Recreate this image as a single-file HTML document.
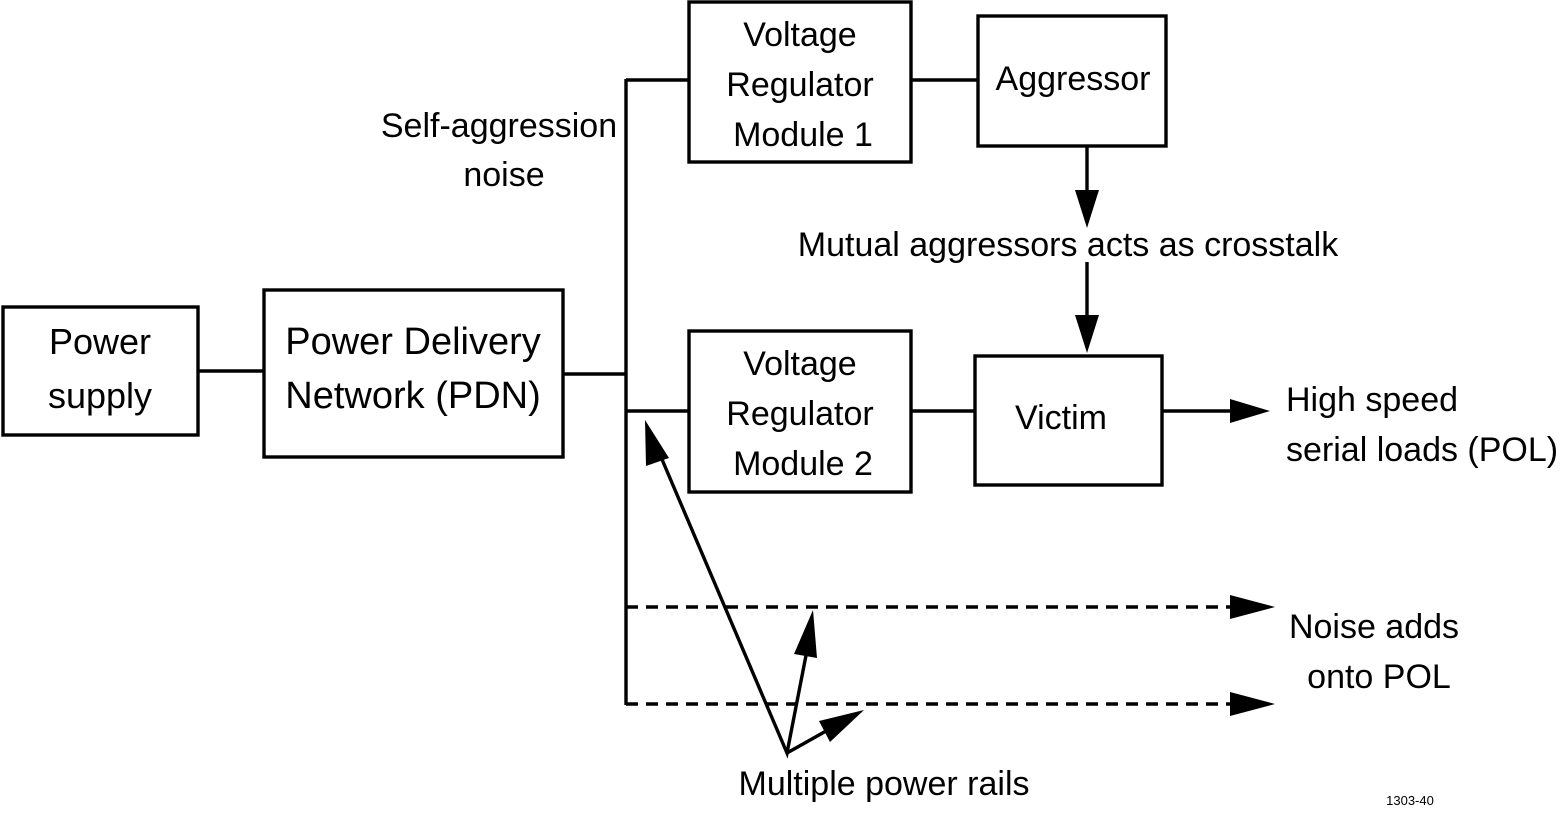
<!DOCTYPE html>
<html><head><meta charset="utf-8"><style>
html,body{margin:0;padding:0;background:#fff;}
svg{display:block;}
text{font-family:"Liberation Sans",sans-serif;font-size:34px;fill:#000;}
</style></head><body>
<svg width="1560" height="814" viewBox="0 0 1560 814" xmlns="http://www.w3.org/2000/svg">
<g fill="none" stroke="#000" stroke-width="3.4">
<rect x="3" y="307" width="195" height="128"/>
<rect x="264" y="290" width="299" height="167"/>
<rect x="689" y="2" width="222" height="160"/>
<rect x="978" y="16" width="188" height="130"/>
<rect x="689" y="331" width="222" height="161"/>
<rect x="975" y="356" width="187" height="129"/>
<line x1="198" y1="371" x2="264" y2="371"/>
<line x1="563" y1="374" x2="626" y2="374"/>
<line x1="626" y1="79" x2="626" y2="705"/>
<line x1="626" y1="80" x2="689" y2="80"/>
<line x1="911" y1="80" x2="978" y2="80"/>
<line x1="626" y1="411" x2="689" y2="411"/>
<line x1="911" y1="411" x2="975" y2="411"/>
<line x1="1162" y1="411" x2="1230" y2="411"/>
<line x1="1087" y1="146" x2="1087" y2="195"/>
<line x1="1087" y1="262" x2="1087" y2="318"/>
<line x1="626" y1="607" x2="1232" y2="607" stroke-dasharray="12 8"/>
<line x1="626" y1="704" x2="1232" y2="704" stroke-dasharray="12 8"/>
<polyline points="658,450 787,753 809,640"/>
<line x1="787" y1="753" x2="835" y2="726"/>
</g>
<g fill="#000">
<polygon points="1230,399 1270,411 1230,423"/>
<polygon points="1075,190 1099,190 1087,228"/>
<polygon points="1075,315 1099,315 1087,353"/>
<polygon points="1230,595 1275,607 1230,619"/>
<polygon points="1230,692 1275,704 1230,716"/>
<polygon points="645,420 669,458 646,466"/>
<polygon points="813,610 817,658 794,654"/>
<polygon points="864,710 830,742 819,721"/>
</g>
<text x="100" y="354" text-anchor="middle" style="font-size:36px">Power</text>
<text x="100" y="408" text-anchor="middle" style="font-size:36px">supply</text>
<text x="413" y="354" text-anchor="middle" style="font-size:38px">Power Delivery</text>
<text x="413" y="408" text-anchor="middle" style="font-size:38px">Network (PDN)</text>
<text x="800" y="46" text-anchor="middle">Voltage</text>
<text x="800" y="96" text-anchor="middle">Regulator</text>
<text x="803" y="146" text-anchor="middle">Module 1</text>
<text x="1073" y="90" text-anchor="middle">Aggressor</text>
<text x="800" y="375" text-anchor="middle">Voltage</text>
<text x="800" y="425" text-anchor="middle">Regulator</text>
<text x="803" y="475" text-anchor="middle">Module 2</text>
<text x="1061" y="429" text-anchor="middle">Victim</text>
<text x="499" y="137" text-anchor="middle">Self-aggression</text>
<text x="504" y="186" text-anchor="middle">noise</text>
<text x="1068" y="256" text-anchor="middle">Mutual aggressors acts as crosstalk</text>
<text x="1286" y="411">High speed</text>
<text x="1286" y="461">serial loads (POL)</text>
<text x="1374" y="638" text-anchor="middle">Noise adds</text>
<text x="1379" y="688" text-anchor="middle">onto POL</text>
<text x="884" y="795" text-anchor="middle">Multiple power rails</text>
<text x="1410" y="805" text-anchor="middle" style="font-size:13px">1303-40</text>
</svg>
</body></html>
